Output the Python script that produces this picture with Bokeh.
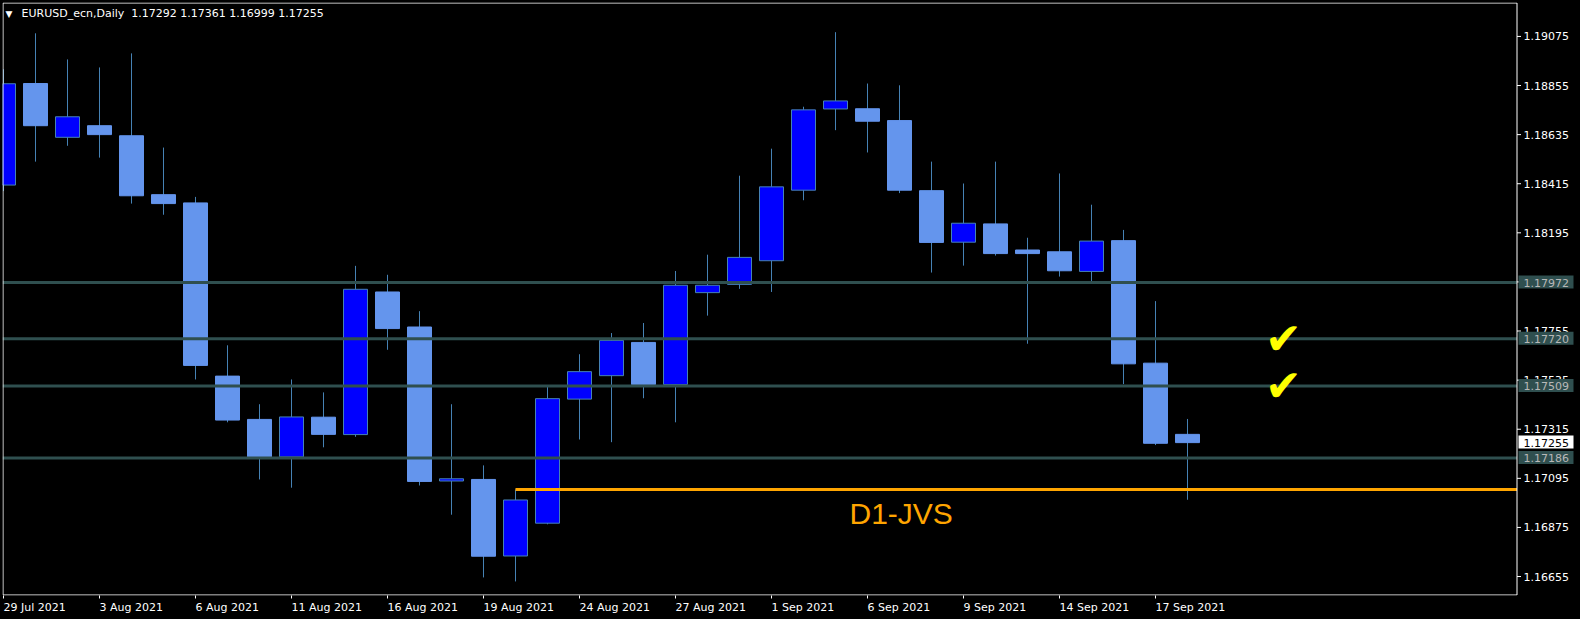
import numpy as np
from bokeh.plotting import figure
from bokeh.models import FixedTicker, Label, Range1d, LinearAxis
from bokeh.embed import file_html
from bokeh.resources import INLINE
from bokeh.core.properties import value

# ---------------- data ----------------
SYMBOL = "EURUSD_ecn,Daily"
DATES = ["29 Jul 2021", "30 Jul 2021", "2 Aug 2021", "3 Aug 2021", "4 Aug 2021", "5 Aug 2021",
         "6 Aug 2021", "9 Aug 2021", "10 Aug 2021", "11 Aug 2021", "12 Aug 2021", "13 Aug 2021",
         "16 Aug 2021", "17 Aug 2021", "18 Aug 2021", "19 Aug 2021", "20 Aug 2021", "23 Aug 2021",
         "24 Aug 2021", "25 Aug 2021", "26 Aug 2021", "27 Aug 2021", "30 Aug 2021", "31 Aug 2021",
         "1 Sep 2021", "2 Sep 2021", "3 Sep 2021", "6 Sep 2021", "7 Sep 2021", "8 Sep 2021",
         "9 Sep 2021", "10 Sep 2021", "13 Sep 2021", "14 Sep 2021", "15 Sep 2021", "16 Sep 2021",
         "17 Sep 2021", "20 Sep 2021"]
OPEN = [1.18409, 1.18864, 1.18623, 1.18675, 1.18630, 1.18366, 1.18329, 1.17553, 1.17359, 1.17191,
        1.17369, 1.17291, 1.17930, 1.17773, 1.17083, 1.17090, 1.16747, 1.16894, 1.17450, 1.17555,
        1.17704, 1.17515, 1.17927, 1.17964, 1.18070, 1.18386, 1.18750, 1.18751, 1.18698, 1.18384,
        1.18153, 1.18235, 1.18118, 1.18110, 1.18022, 1.18160, 1.17611, 1.17292]
HIGH = [1.18928, 1.19089, 1.18972, 1.18936, 1.18999, 1.18577, 1.18356, 1.17691, 1.17427, 1.17538,
        1.17480, 1.18047, 1.18007, 1.17844, 1.17427, 1.17153, 1.17045, 1.17507, 1.17651, 1.17746,
        1.17791, 1.18024, 1.18097, 1.18451, 1.18572, 1.18760, 1.19094, 1.18864, 1.18856, 1.18514,
        1.18416, 1.18514, 1.18173, 1.18461, 1.18321, 1.18208, 1.17889, 1.17361]
LOW = [1.18382, 1.18514, 1.18585, 1.18532, 1.18326, 1.18276, 1.17538, 1.17346, 1.17090, 1.17053,
       1.17234, 1.17281, 1.17671, 1.17063, 1.16932, 1.16651, 1.16633, 1.16889, 1.17269, 1.17257,
       1.17454, 1.17346, 1.17824, 1.17944, 1.17930, 1.18341, 1.18655, 1.18555, 1.18373, 1.18017,
       1.18048, 1.18093, 1.17698, 1.17999, 1.17979, 1.17517, 1.17244, 1.16999]
CLOSE = [1.18863, 1.18675, 1.18715, 1.18635, 1.18361, 1.18326, 1.17601, 1.17356, 1.17191, 1.17370,
         1.17292, 1.17942, 1.17766, 1.17081, 1.17093, 1.16746, 1.16998, 1.17452, 1.17573, 1.17713,
         1.17515, 1.17960, 1.17960, 1.18085, 1.18401, 1.18746, 1.18786, 1.18695, 1.18386, 1.18152,
         1.18238, 1.18102, 1.18102, 1.18025, 1.18158, 1.17608, 1.17252, 1.17255]
PRICE_TICKS = [1.16655, 1.16875, 1.17095, 1.17315, 1.17535, 1.17755, 1.17975, 1.18195,
               1.18415, 1.18635, 1.18855, 1.19075]
DATE_TICK_STEP = 3
LEVELS = [1.17972, 1.17720, 1.17509, 1.17186]
CHECKED_LEVELS = [1.17720, 1.17509]
JVS_LEVEL = 1.17045
JVS_START = "20 Aug 2021"
JVS_TEXT = "D1-JVS"

# ---------------- layout constants ----------------
W, H = 1580, 619
FRAME_L, FRAME_T, FRAME_B = 2, 2, 595
CHART_R = 1516          # right border of the candle area (price scale lies to its right)
PX_PER_BAR = 32.0
BAR0_PX = 3.0
Y_TOP, Y_BOT = 1.19227, 1.16570
PRICE_PER_PX = (Y_TOP - Y_BOT) / (FRAME_B - FRAME_T)

def px_to_x(px):
    return (px - BAR0_PX) / PX_PER_BAR

def py_to_y(py):
    return Y_TOP - (py - FRAME_T) * PRICE_PER_PX

# DejaVu Sans advance widths (em) used to left-align date labels at their tick
_ADV = {" ": 0.318, "J": 0.295, "u": 0.634, "l": 0.278, "A": 0.684, "g": 0.635,
        "S": 0.635, "e": 0.615, "p": 0.635}
def text_px(s, size=11):
    return sum(_ADV.get(ch, 0.636) for ch in s) * size

BG = "black"
FG = "white"
BULL_FILL = "#0000FF"
BEAR_FILL = "#6495ED"
WICK = "#4682B4"
LEVEL_COLOR = "#2F4F4F"
LEVEL_TEXT = "#B8B8B8"
ORANGE = "#FFA500"
FONT = "DejaVu Sans"
NB = "\u00a0"

X_START, X_END = px_to_x(FRAME_L), px_to_x(W)
XR = px_to_x(CHART_R + 0.5)          # right border line of the candle area

p = figure(width=W, height=H, output_backend="svg", toolbar_location=None,
           x_range=Range1d(X_START, X_END), y_range=Range1d(Y_BOT, Y_TOP),
           min_border_left=FRAME_L, min_border_top=FRAME_T,
           min_border_right=0, min_border_bottom=H - FRAME_B)
p.background_fill_color = BG
p.border_fill_color = BG
p.outline_line_color = None
p.grid.visible = False
p.yaxis.visible = False

o = np.array(OPEN); h = np.array(HIGH); l = np.array(LOW); c = np.array(CLOSE)
idx = np.arange(len(DATES))
bull = c >= o

# wicks and bodies
p.segment(x0=idx, y0=l, x1=idx, y1=h, line_color=WICK, line_width=1)
p.vbar(x=idx[bull], width=0.75, top=c[bull], bottom=o[bull],
       fill_color=BULL_FILL, line_color=WICK, line_width=1)
p.vbar(x=idx[~bull], width=0.75, top=o[~bull], bottom=c[~bull],
       fill_color=BEAR_FILL, line_color=BEAR_FILL, line_width=1)

# horizontal levels across the candle area
p.segment(x0=[X_START] * len(LEVELS), y0=LEVELS, x1=[XR] * len(LEVELS), y1=LEVELS,
          line_color=LEVEL_COLOR, line_width=3)

# D1-JVS line from the 20 Aug high to the right border
jvs_i = DATES.index(JVS_START)
p.segment(x0=[jvs_i], y0=[JVS_LEVEL], x1=[XR], y1=[JVS_LEVEL], line_color=ORANGE, line_width=3)
p.add_layout(Label(x=px_to_x(849), y=py_to_y(513), text=JVS_TEXT, text_color=ORANGE,
                   text_font="Liberation Sans", text_font_size="30px",
                   text_baseline="alphabetic", text_align="left"))

# check marks on two levels
p.text(x=[px_to_x(1283)] * len(CHECKED_LEVELS), y=CHECKED_LEVELS, text=["\u2714"] * len(CHECKED_LEVELS),
       text_color="#FFFF00", text_font=value(FONT), text_font_size="44px",
       text_align="center", text_baseline="middle")

# frame border of the candle area (left, top, right, bottom)
yt, yb = py_to_y(FRAME_T + 0.5), py_to_y(FRAME_B - 0.5)
xl = px_to_x(FRAME_L + 0.5)
p.segment(x0=[xl, xl, XR, xl], y0=[yb, yt, yb, yb], x1=[xl, XR, XR, XR], y1=[yt, yt, yt, yb],
          line_color=FG, line_width=1)

# ---- price scale to the right of the border ----
tick_len_x = 4 / PX_PER_BAR
p.segment(x0=[XR] * len(PRICE_TICKS), y0=PRICE_TICKS, x1=[XR + tick_len_x] * len(PRICE_TICKS),
          y1=PRICE_TICKS, line_color=FG, line_width=1)
p.text(x=[px_to_x(1523)] * len(PRICE_TICKS), y=PRICE_TICKS, text=["%.5f" % v for v in PRICE_TICKS],
       text_color=FG, text_font=value(FONT), text_font_size="11px",
       text_align="left", text_baseline="middle")

box_prices = LEVELS + [CLOSE[-1]]
box_fill = [LEVEL_COLOR] * len(LEVELS) + ["white"]
box_text = [LEVEL_TEXT] * len(LEVELS) + ["black"]
half_h = 7 * PRICE_PER_PX
p.quad(left=[px_to_x(1518)] * len(box_prices), right=[px_to_x(1573)] * len(box_prices),
       top=[v + half_h for v in box_prices], bottom=[v - half_h + PRICE_PER_PX for v in box_prices],
       fill_color=box_fill, line_color=None)
p.text(x=[px_to_x(1523)] * len(box_prices), y=box_prices, text=["%.5f" % v for v in box_prices],
       text_color=box_text, text_font=value(FONT), text_font_size="11px",
       text_align="left", text_baseline="middle")

# ---- x axis: tick marks at the bars; labels start at the tick (second axis) ----
tick_idx = [int(i) for i in idx[::DATE_TICK_STEP]]
p.xaxis.ticker = FixedTicker(ticks=tick_idx)
p.xaxis.major_label_text_color = None
p.xaxis.major_label_text_font_size = "1px"
p.xaxis.major_label_standoff = 0
p.xaxis.major_tick_out = 3
p.xaxis.major_tick_in = 0
p.xaxis.axis_line_color = None
p.xaxis.major_tick_line_color = FG
p.xaxis.minor_tick_line_color = None

label_pos = [i + text_px(DATES[i]) / 2.0 / PX_PER_BAR for i in tick_idx]
date_axis = LinearAxis(ticker=FixedTicker(ticks=label_pos),
                       major_label_overrides={pos: DATES[i] for pos, i in zip(label_pos, tick_idx)},
                       axis_line_color=None, major_tick_line_color=None, minor_tick_line_color=None,
                       major_tick_out=0, major_tick_in=0, major_label_standoff=2,
                       major_label_text_color=FG, major_label_text_font=FONT,
                       major_label_text_font_size="11px")
p.add_layout(date_axis, "below")

# header
p.add_layout(Label(x=px_to_x(5), y=py_to_y(13), text="\u25BC", text_color=FG,
                   text_font=FONT, text_font_size="9px",
                   text_align="left", text_baseline="middle"))
header = "%s%s %.5f %.5f %.5f %.5f" % (SYMBOL, NB, OPEN[-1], HIGH[-1], LOW[-1], CLOSE[-1])
p.add_layout(Label(x=px_to_x(21), y=py_to_y(13), text=header, text_color=FG,
                   text_font=FONT, text_font_size="11px",
                   text_align="left", text_baseline="middle"))

html = file_html(p, INLINE)
html = html.replace("<head>", "<head><style>html,body{margin:0 !important;padding:0;background:#000;}</style>", 1)
open("out.html", "w").write(html)
